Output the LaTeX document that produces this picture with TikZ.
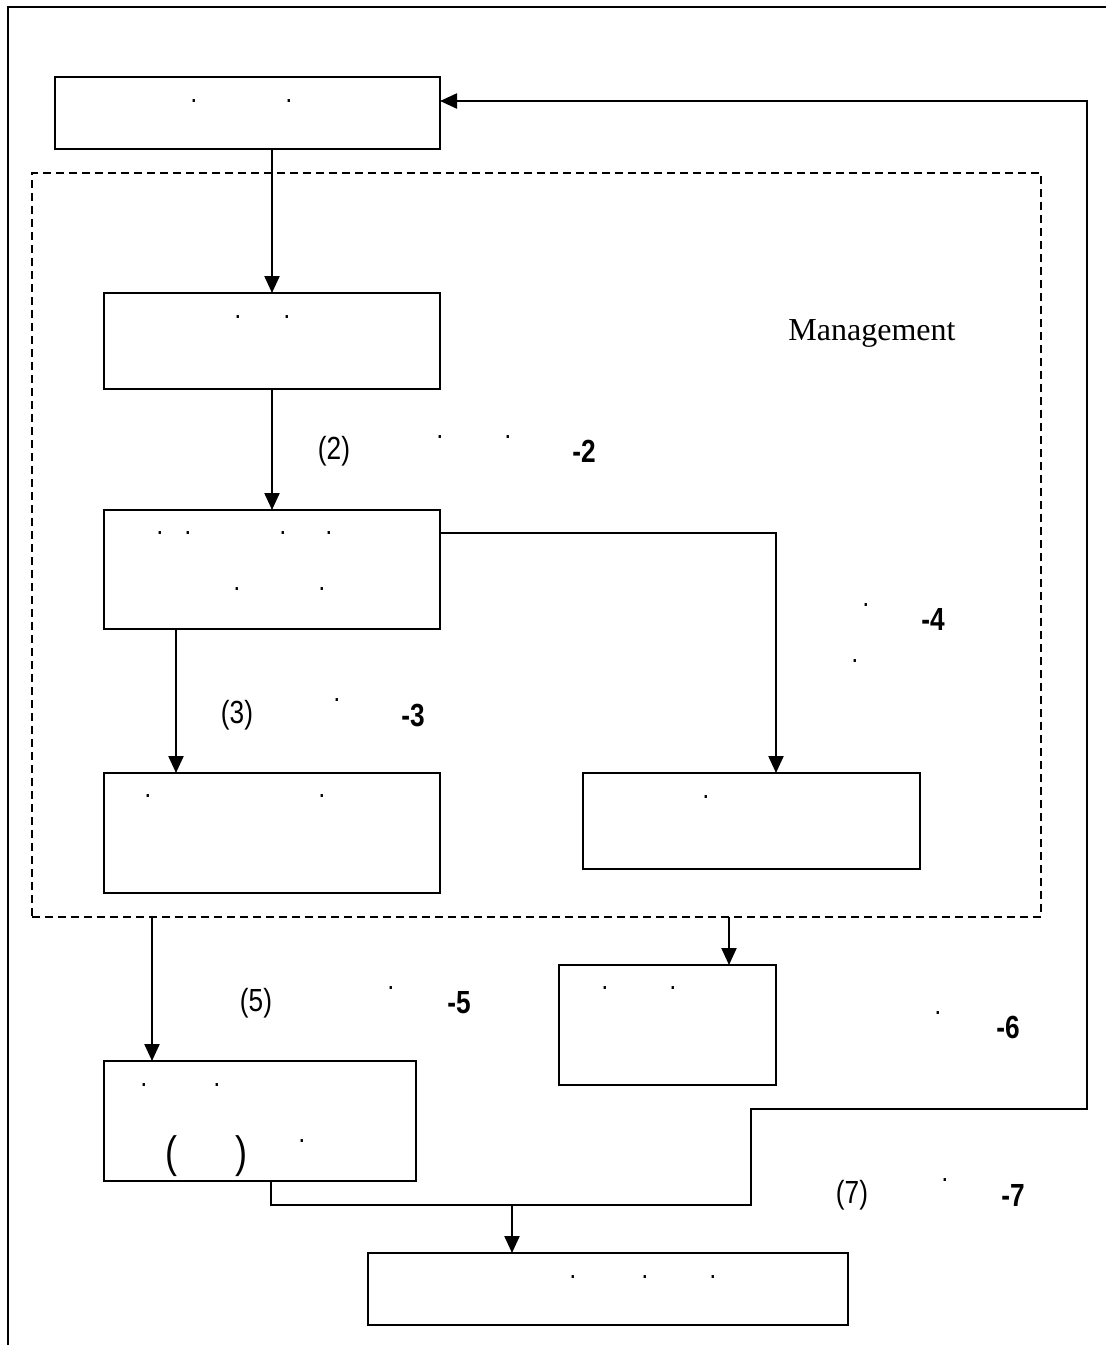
\documentclass[tikz,border=0pt]{standalone}
\usepackage{fontspec}
\setmainfont{Liberation Serif}
\newfontfamily\narrowsans[FakeStretch=0.82]{Liberation Sans}
\usetikzlibrary{arrows.meta}

\begin{document}
\begin{tikzpicture}[x=1pt,y=-1pt,
  every node/.style={inner sep=0pt, outer sep=0pt},
  stepbox/.style={draw, line width=2.2pt, rectangle},
  wire/.style={line width=2.2pt, line join=miter},
  arr/.style={wire, -{Triangle[length=17pt,width=15pt]}},
  zone/.style={draw, line width=2pt, dash pattern=on 8pt off 5pt},
  dotmark/.style={font=\narrowsans\bfseries\fontsize{20}{20}\selectfont},
  numlbl/.style={font=\narrowsans\fontsize{32}{36}\selectfont},
  boldlbl/.style={font=\narrowsans\bfseries\fontsize{32}{36}\selectfont},
  bigparen/.style={font=\narrowsans\fontsize{44}{48}\selectfont},
]
% canvas
\useasboundingbox (0,0) rectangle (1106,1345);

% outer frame (open on the right and bottom)
\draw[wire] (8,1345) -- (8,7) -- (1106,7);

% management zone
\node[zone, minimum width=1009pt, minimum height=744pt] (mgmt) at (536.5,545) {};
\node[font=\fontsize{32}{36}\selectfont] (mgmtlbl) at (872,333) {Management};

% process boxes
\node[stepbox, minimum width=385pt, minimum height=72pt]  (b1) at (247.5,113) {};
\node[stepbox, minimum width=336pt, minimum height=96pt]  (b2) at (272,341) {};
\node[stepbox, minimum width=336pt, minimum height=119pt] (b3) at (272,569.5) {};
\node[stepbox, minimum width=336pt, minimum height=120pt] (b4) at (272,833) {};
\node[stepbox, minimum width=337pt, minimum height=96pt]  (b5) at (751.5,821) {};
\node[stepbox, minimum width=217pt, minimum height=120pt] (b6) at (667.5,1025) {};
\node[stepbox, minimum width=312pt, minimum height=120pt] (b7) at (260,1121) {};
\node[stepbox, minimum width=480pt, minimum height=72pt]  (b8) at (608,1289) {};

% text marks inside the boxes
\node[dotmark] (t1a) at (194,101) {.};
\node[dotmark] (t1b) at (289,101) {.};
\node[dotmark] (t2a) at (238,317) {.};
\node[dotmark] (t2b) at (287,317) {.};
\node[dotmark] (t3a) at (160,533) {.};
\node[dotmark] (t3b) at (188,533) {.};
\node[dotmark] (t3c) at (283,533) {.};
\node[dotmark] (t3d) at (329,533) {.};
\node[dotmark] (t3e) at (237,589) {.};
\node[dotmark] (t3f) at (322,589) {.};
\node[dotmark] (t4a) at (148,796) {.};
\node[dotmark] (t4b) at (322,796) {.};
\node[dotmark] (t5a) at (706,797) {.};
\node[dotmark] (t6a) at (605,988) {.};
\node[dotmark] (t6b) at (673,988) {.};
\node[dotmark] (t7a) at (144,1085) {.};
\node[dotmark] (t7b) at (217,1085) {.};
\node[dotmark] (t7c) at (302,1141) {.};
\node[bigparen] (t7p) at (172,1156) {(};
\node[bigparen] (t7q) at (242,1156) {)};
\node[dotmark] (t8a) at (573,1277) {.};
\node[dotmark] (t8b) at (645,1277) {.};
\node[dotmark] (t8c) at (713,1277) {.};

% step labels
\node[numlbl]  (l2)  at (334,451) {(2)};
\node[dotmark] (l2a) at (440,437) {.};
\node[dotmark] (l2b) at (508,437) {.};
\node[boldlbl] (l2n) at (584,451) {-2};

\node[numlbl]  (l3)  at (237,715) {(3)};
\node[dotmark] (l3a) at (337,700) {.};
\node[boldlbl] (l3n) at (413,715) {-3};

\node[dotmark] (l4a) at (866,605) {.};
\node[dotmark] (l4b) at (855,661) {.};
\node[boldlbl] (l4n) at (933,619) {-4};

\node[numlbl]  (l5)  at (256,1003) {(5)};
\node[dotmark] (l5a) at (391,988) {.};
\node[boldlbl] (l5n) at (459,1003) {-5};

\node[dotmark] (l6a) at (938,1013) {.};
\node[boldlbl] (l6n) at (1008,1027) {-6};

\node[numlbl]  (l7)  at (852,1195) {(7)};
\node[dotmark] (l7a) at (945,1180) {.};
\node[boldlbl] (l7n) at (1013,1195) {-7};

% bend points of the connectors
\coordinate (c3r)  at (b3.east |- 0,533);
\coordinate (c5a)  at (152,0 |- mgmt.south);
\coordinate (c6a)  at (729,0 |- mgmt.south);
\coordinate (j7)   at (512,1205);
\coordinate (r1)   at (751,1205);
\coordinate (r2)   at (751,1109);
\coordinate (r3)   at (1087,1109);
\coordinate (r4)   at (1087,101);
\coordinate (b1in) at (b1.east |- 0,101);

% connectors
\draw[arr] (b1.south -| b2.north) -- (b2.north);
\draw[arr] (b2.south) -- (b3.north);
\draw[arr] (c3r) -| (776,0 |- b5.north);
\draw[arr] (176,0 |- b3.south) -- (176,0 |- b4.north);
\draw[arr] (c5a) -- (152,0 |- b7.north);
\draw[arr] (c6a) -- (729,0 |- b6.north);
\draw[arr] (271,0 |- b7.south) |- (r1) -- (r2) -- (r3) -- (r4) -- (b1in);
\draw[arr] (j7) -- (j7 |- b8.north);
\end{tikzpicture}
\end{document}
